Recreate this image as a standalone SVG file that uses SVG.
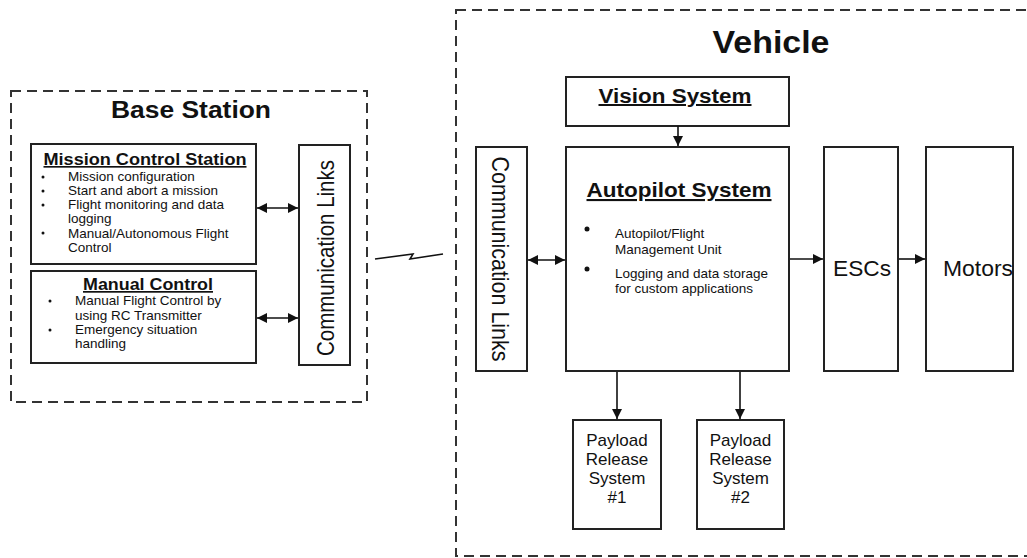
<svg xmlns="http://www.w3.org/2000/svg" width="1027" height="558" viewBox="0 0 1027 558">
<style>
.box{fill:none;stroke:#222;stroke-width:2}
.dash{fill:none;stroke:#333;stroke-width:2;stroke-dasharray:10 6}
.t{font-family:"Liberation Sans",Arial,sans-serif;fill:#111}
.b{font-weight:bold}
.u{text-decoration:underline}
.c{stroke:#111;stroke-width:1.6;fill:none}
.s{font-size:13.5px}
</style>
<defs>
<marker id="ah" viewBox="0 0 10 10" refX="10" refY="5" markerWidth="10" markerHeight="10" markerUnits="userSpaceOnUse" orient="auto-start-reverse">
<path d="M0,0 L10,5 L0,10 z" fill="#111"/>
</marker>
</defs>
<rect width="1027" height="558" fill="#fff"/>

<g id="base-station">
<rect class="dash" x="11" y="91" width="356" height="311"/>
<text class="t b" x="191" y="118" font-size="23" text-anchor="middle" textLength="160" lengthAdjust="spacingAndGlyphs">Base Station</text>
</g>

<g id="mission-control">
<rect class="box" x="31" y="144" width="225" height="120"/>
<text class="t b u" x="145" y="165" font-size="16.5" text-anchor="middle" textLength="203" lengthAdjust="spacingAndGlyphs">Mission Control Station</text>
<g class="t s">
<circle cx="43" cy="177" r="1.5" fill="#111"/>
<circle cx="43" cy="191" r="1.5" fill="#111"/>
<circle cx="43" cy="205" r="1.5" fill="#111"/>
<circle cx="43" cy="233" r="1.5" fill="#111"/>
<text x="68" y="181">Mission configuration</text>
<text x="68" y="195">Start and abort a mission</text>
<text x="68" y="209">Flight monitoring and data</text>
<text x="68" y="223">logging</text>
<text x="68" y="237.5">Manual/Autonomous Flight</text>
<text x="68" y="251.5">Control</text>
</g>
</g>

<g id="manual-control">
<rect class="box" x="31" y="271" width="225" height="92"/>
<text class="t b u" x="148" y="290" font-size="17" text-anchor="middle" textLength="130" lengthAdjust="spacingAndGlyphs">Manual Control</text>
<g class="t s">
<circle cx="50" cy="301" r="1.5" fill="#111"/>
<circle cx="50" cy="330" r="1.5" fill="#111"/>
<text x="75" y="305">Manual Flight Control by</text>
<text x="75" y="319.5">using RC Transmitter</text>
<text x="75" y="334">Emergency situation</text>
<text x="75" y="348">handling</text>
</g>
</g>

<g id="base-comm-links">
<rect class="box" x="299" y="145" width="51" height="220"/>
<text class="t" transform="translate(334,258) rotate(-90)" x="0" y="0" font-size="24" text-anchor="middle" textLength="196" lengthAdjust="spacingAndGlyphs">Communication Links</text>
</g>

<g id="vehicle">
<rect class="dash" x="456" y="10" width="600" height="546"/>
<text class="t b" x="771" y="53" font-size="32" text-anchor="middle" textLength="117" lengthAdjust="spacingAndGlyphs">Vehicle</text>
</g>

<g id="vision-system">
<rect class="box" x="566" y="77" width="223" height="49"/>
<text class="t b u" x="675" y="103" font-size="20" text-anchor="middle" textLength="153" lengthAdjust="spacingAndGlyphs">Vision System</text>
</g>

<g id="vehicle-comm-links">
<rect class="box" x="476" y="147" width="51" height="224"/>
<text class="t" transform="translate(492,259) rotate(90)" x="0" y="0" font-size="24" text-anchor="middle" textLength="205" lengthAdjust="spacingAndGlyphs">Communication Links</text>
</g>

<g id="autopilot-system">
<rect class="box" x="566" y="147" width="223" height="224"/>
<text class="t b u" x="679" y="197" font-size="21" text-anchor="middle" textLength="185" lengthAdjust="spacingAndGlyphs">Autopilot System</text>
<circle cx="587" cy="229" r="2.5" fill="#111"/>
<circle cx="587" cy="269" r="2.5" fill="#111"/>
<g class="t s">
<text x="615" y="238">Autopilot/Flight</text>
<text x="615" y="254">Management Unit</text>
<text x="615" y="278">Logging and data storage</text>
<text x="615" y="293">for custom applications</text>
</g>
</g>

<g id="escs">
<rect class="box" x="824" y="147" width="74" height="224"/>
<text class="t" x="862" y="276" font-size="22" text-anchor="middle" textLength="58" lengthAdjust="spacingAndGlyphs">ESCs</text>
</g>

<g id="motors">
<rect class="box" x="926" y="147" width="87" height="224"/>
<text class="t" x="943" y="276" font-size="22" textLength="70" lengthAdjust="spacingAndGlyphs">Motors</text>
</g>

<g id="payload-1">
<rect class="box" x="573" y="420" width="88" height="109"/>
<g class="t" font-size="17" text-anchor="middle">
<text x="617" y="446">Payload</text>
<text x="617" y="465">Release</text>
<text x="617" y="484">System</text>
<text x="617" y="503">#1</text>
</g>
</g>

<g id="payload-2">
<rect class="box" x="697" y="420" width="87" height="109"/>
<g class="t" font-size="17" text-anchor="middle">
<text x="740.5" y="446">Payload</text>
<text x="740.5" y="465">Release</text>
<text x="740.5" y="484">System</text>
<text x="740.5" y="503">#2</text>
</g>
</g>

<g id="connectors">
<line class="c" x1="257" y1="208" x2="298" y2="208" marker-start="url(#ah)" marker-end="url(#ah)"/>
<line class="c" x1="257" y1="318" x2="298" y2="318" marker-start="url(#ah)" marker-end="url(#ah)"/>
<polyline class="c" points="375,259 413,254 410,259 443,254"/>
<line class="c" x1="528" y1="260" x2="565" y2="260" marker-start="url(#ah)" marker-end="url(#ah)"/>
<line class="c" x1="678" y1="126" x2="678" y2="146" marker-end="url(#ah)"/>
<line class="c" x1="790" y1="259" x2="823" y2="259" marker-end="url(#ah)"/>
<line class="c" x1="899" y1="259" x2="925" y2="259" marker-end="url(#ah)"/>
<line class="c" x1="617" y1="372" x2="617" y2="419" marker-end="url(#ah)"/>
<line class="c" x1="740" y1="372" x2="740" y2="419" marker-end="url(#ah)"/>
</g>
</svg>
